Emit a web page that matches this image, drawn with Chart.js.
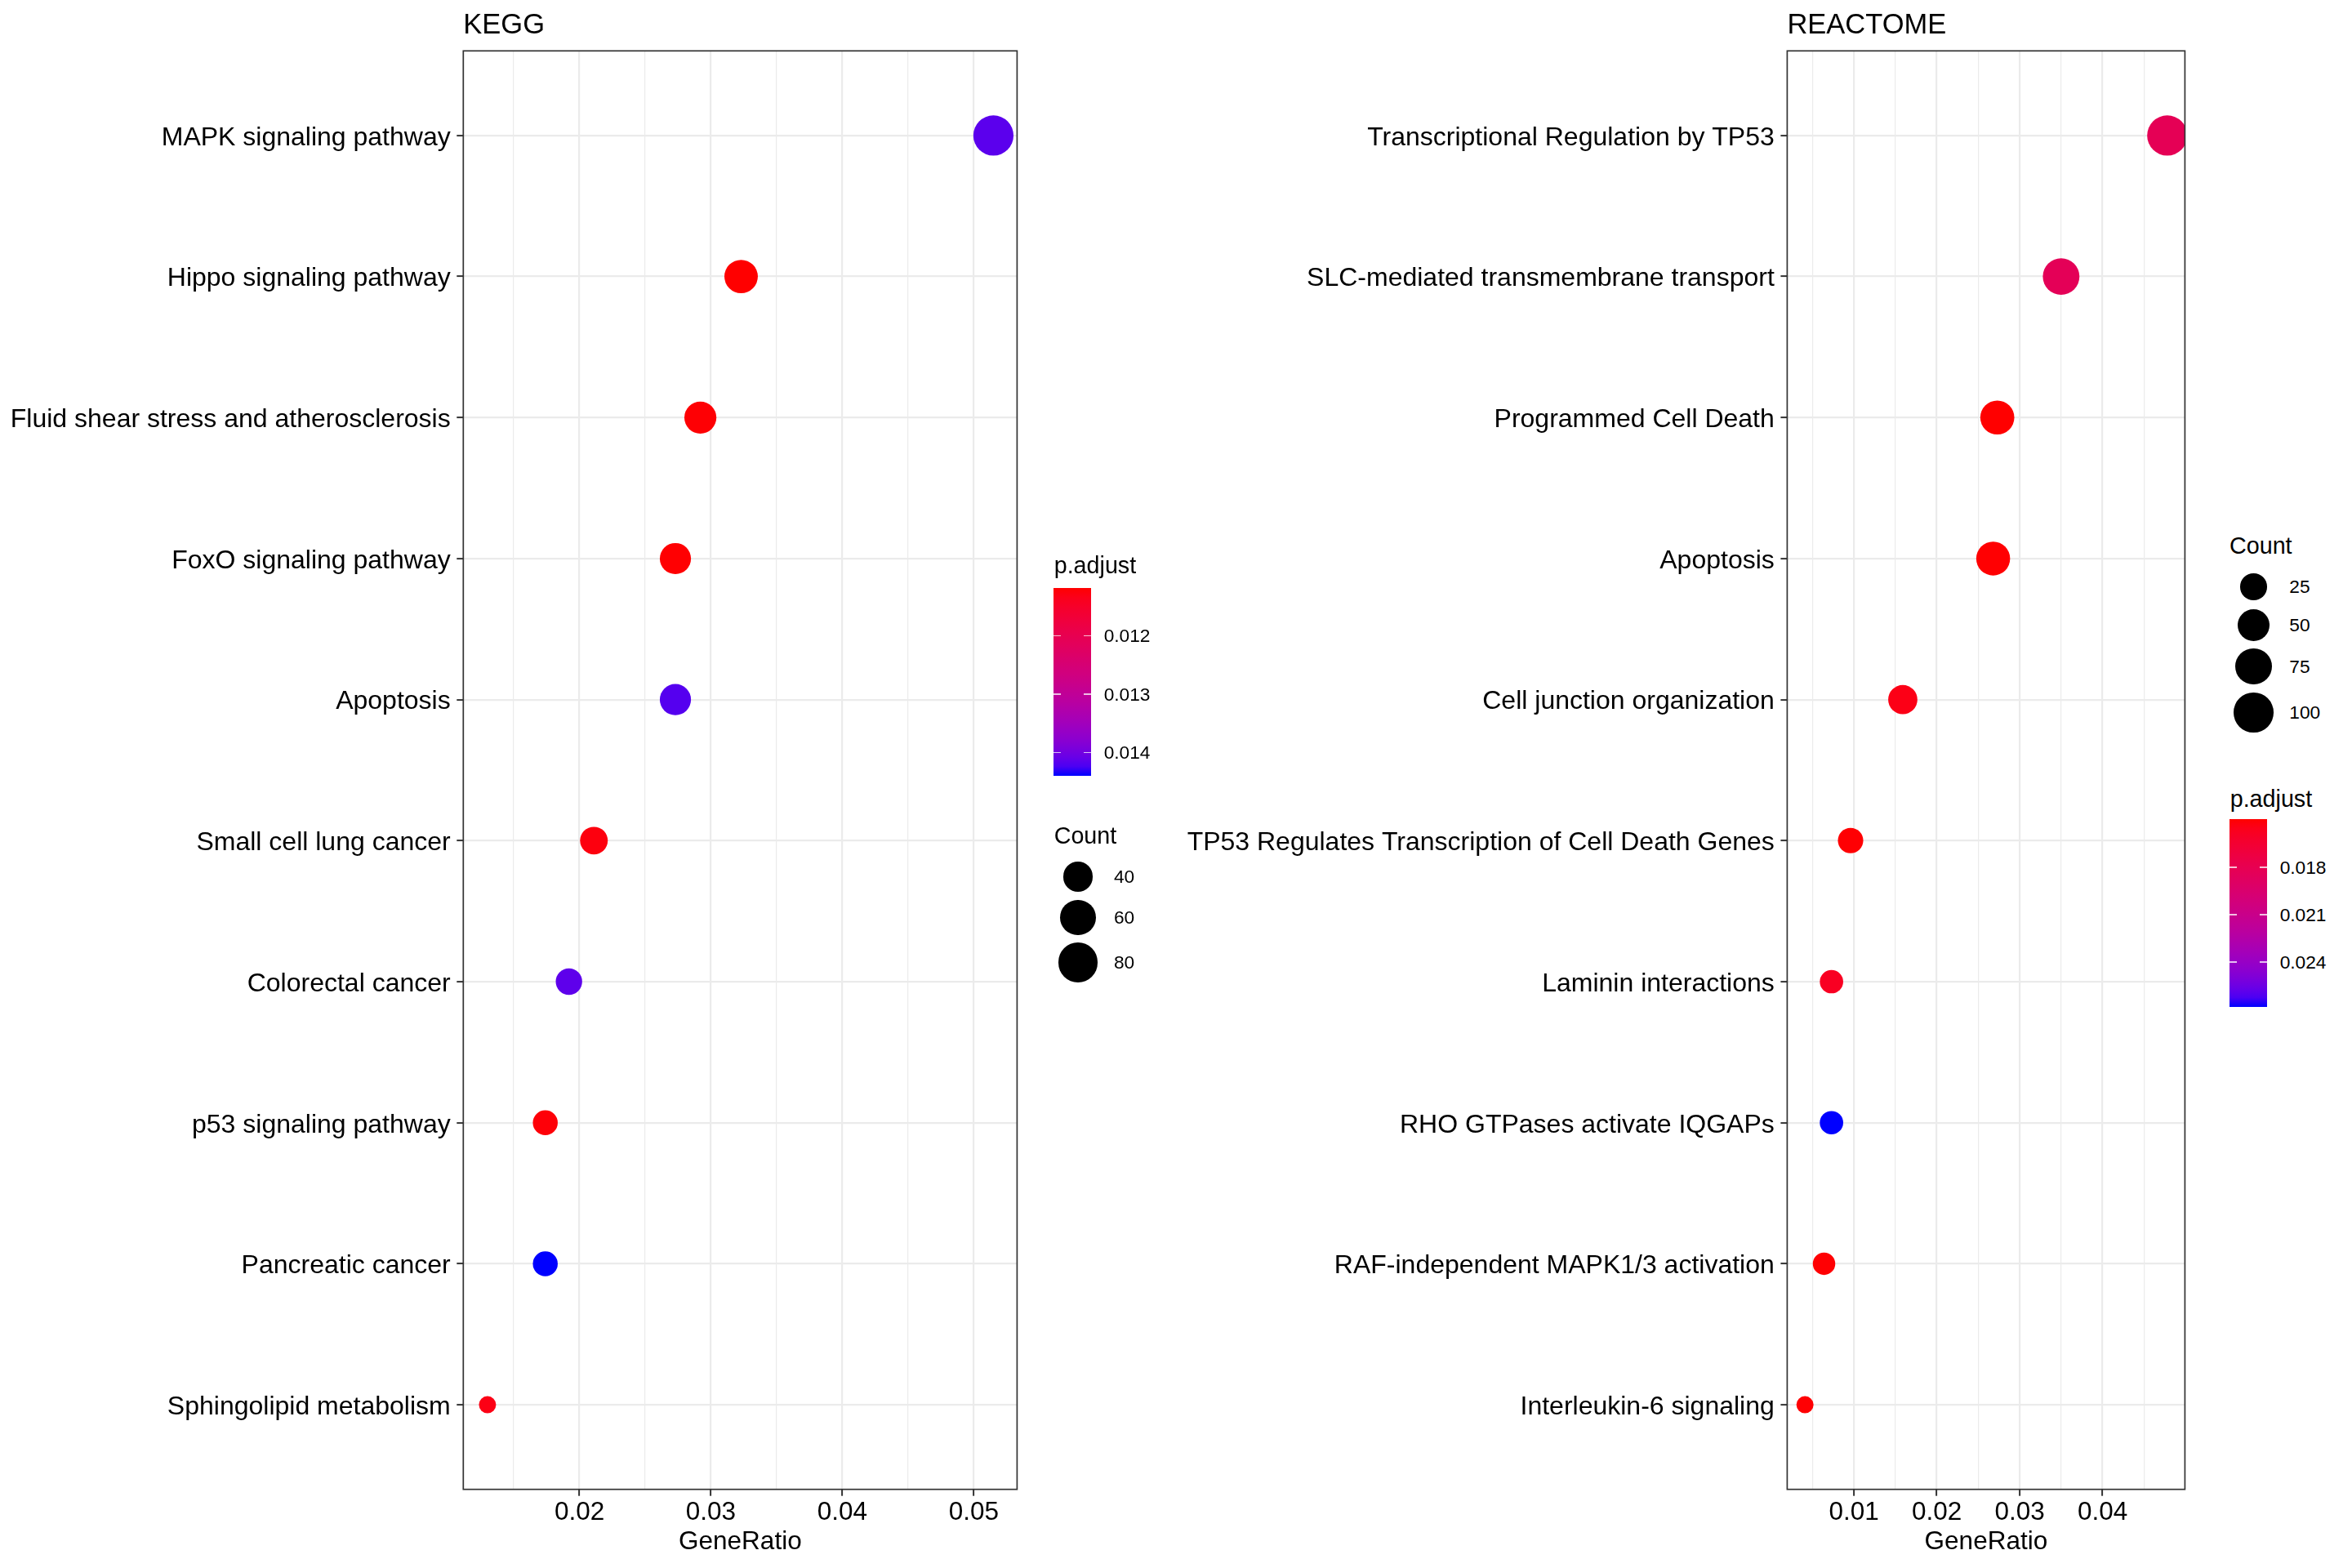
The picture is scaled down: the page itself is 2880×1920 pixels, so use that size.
<!DOCTYPE html>
<html>
<head>
<meta charset="utf-8">
<script src="https://cdn.jsdelivr.net/npm/chart.js@4.4.1/dist/chart.umd.min.js"></script>
<style>
  body { margin: 0; background: #fff; }
  #pagina { position: relative; width: 2880px; height: 1920px; background: #fff;
            font-family: "Liberation Sans", Arial, sans-serif; color: #000; overflow: hidden; }
  canvas { position: absolute; top: 0; }
  .text { position: absolute; white-space: nowrap; }
</style>
</head>
<body>
<div id="pagina">
  <canvas id="kegg" width="1270" height="1920" style="left:0px"></canvas>
  <canvas id="reactome" width="1430" height="1920" style="left:1270px"></canvas>
</div>
<script>
// Dades KEGG
const categoriesKegg = ['MAPK signaling pathway', 'Hippo signaling pathway', 'Fluid shear stress and atherosclerosis',
    'FoxO signaling pathway', 'Apoptosis', 'Small cell lung cancer', 'Colorectal cancer',
    'p53 signaling pathway', 'Pancreatic cancer', 'Sphingolipid metabolism'];
const generatioKegg = [0.0515, 0.0323, 0.0292, 0.0273, 0.0273, 0.0211, 0.0192, 0.0174, 0.0174, 0.0130];
const countKegg = [83, 52, 47, 44, 44, 34, 31, 28, 28, 21];
const padjKegg = [0.01416, 0.01118, 0.01120, 0.01119, 0.01419, 0.01125, 0.01414, 0.01122, 0.01440, 0.01130];
const ticksKegg = [0.02, 0.03, 0.04, 0.05];
const ticksMenorsKegg = [0.015, 0.025, 0.035, 0.045];
const ticksPadjKegg = [0.012, 0.013, 0.014];
const ticksCountKegg = [40, 60, 80];

// Dades REACTOME
const categoriesReactome = ['Transcriptional Regulation by TP53', 'SLC-mediated transmembrane transport',
    'Programmed Cell Death', 'Apoptosis', 'Cell junction organization',
    'TP53 Regulates Transcription of Cell Death Genes', 'Laminin interactions',
    'RHO GTPases activate IQGAPs', 'RAF-independent MAPK1/3 activation', 'Interleukin-6 signaling'];
const generatioReactome = [0.0478, 0.0350, 0.0273, 0.0268, 0.0159, 0.0096, 0.0073, 0.0073, 0.0064, 0.0041];
const countReactome = [104, 77, 60, 59, 35, 21, 16, 16, 14, 9];
const padjReactome = [0.0182, 0.0183, 0.01494, 0.01497, 0.0154, 0.0150, 0.0158, 0.02682, 0.0150, 0.0150];
const ticksReactome = [0.01, 0.02, 0.03, 0.04];
const ticksMenorsReactome = [0.005, 0.015, 0.025, 0.035, 0.045];
const ticksPadjReactome = [0.018, 0.021, 0.024];
const ticksCountReactome = [25, 50, 75, 100];

const FONT = '"Liberation Sans", Arial, sans-serif';
const R_MIN = 10.5, R_MAX = 24.6;

// Colors: gradient vermell -> blau interpolat en Lab (com ggplot)
function rgbALab(r, g, b) {
    const lin = c => { c /= 255; return c <= 0.04045 ? c / 12.92 : Math.pow((c + 0.055) / 1.055, 2.4); };
    const R = lin(r), G = lin(g), B = lin(b);
    const X = (R * 0.4124564 + G * 0.3575761 + B * 0.1804375) / 0.95047;
    const Y = R * 0.2126729 + G * 0.7151522 + B * 0.0721750;
    const Z = (R * 0.0193339 + G * 0.1191920 + B * 0.9503041) / 1.08883;
    const f = t => t > 0.008856 ? Math.cbrt(t) : 7.787 * t + 16 / 116;
    return [116 * f(Y) - 16, 500 * (f(X) - f(Y)), 200 * (f(Y) - f(Z))];
}

function labARgb(L, a, b) {
    const fy = (L + 16) / 116, fx = fy + a / 500, fz = fy - b / 200;
    const inv = t => t * t * t > 0.008856 ? t * t * t : (t - 16 / 116) / 7.787;
    const X = inv(fx) * 0.95047, Y = inv(fy), Z = inv(fz) * 1.08883;
    const R = X * 3.2404542 - Y * 1.5371385 - Z * 0.4985314;
    const G = -X * 0.9692660 + Y * 1.8760108 + Z * 0.0415560;
    const B = X * 0.0556434 - Y * 0.2040259 + Z * 1.0572252;
    const gam = c => {
        c = c <= 0.0031308 ? 12.92 * c : 1.055 * Math.pow(c, 1 / 2.4) - 0.055;
        return Math.round(Math.min(1, Math.max(0, c)) * 255);
    };
    return 'rgb(' + gam(R) + ',' + gam(G) + ',' + gam(B) + ')';
}

const labVermell = rgbALab(255, 0, 0);
const labBlau = rgbALab(0, 0, 255);

function colorT(t) {
    t = Math.min(1, Math.max(0, t));
    return labARgb(labVermell[0] + t * (labBlau[0] - labVermell[0]),
                   labVermell[1] + t * (labBlau[1] - labVermell[1]),
                   labVermell[2] + t * (labBlau[2] - labVermell[2]));
}

// Mida del punt: escala d'area com scale_size
function radi(c, cMin, cMax) {
    return R_MIN + (R_MAX - R_MIN) * Math.sqrt((c - cMin) / (cMax - cMin));
}

// Vora del panell per sobre dels punts
const voraPanell = {
    id: 'voraPanell',
    afterDatasetsDraw(chart) {
        const { ctx, chartArea: a } = chart;
        ctx.save();
        ctx.strokeStyle = '#333333';
        ctx.lineWidth = 1.7;
        ctx.strokeRect(a.left, a.top, a.right - a.left, a.bottom - a.top);
        ctx.restore();
    }
};

function afegirText(text, left, top, mida) {
    const d = document.createElement('div');
    d.className = 'text';
    d.textContent = text;
    d.style.left = left + 'px';
    d.style.top = top + 'px';
    d.style.fontSize = mida + 'px';
    d.style.lineHeight = mida + 'px';
    document.getElementById('pagina').appendChild(d);
}

function crearPanell(p) {
    const canvas = document.getElementById(p.id);
    const cMin = Math.min(...p.counts), cMax = Math.max(...p.counts);
    const pMin = Math.min(...p.padj), pMax = Math.max(...p.padj);
    const punts = p.categories.map((c, i) => ({ x: p.ratios[i], y: i + 1, count: p.counts[i], padj: p.padj[i] }));
    const altX = 86;
    const totsTicks = p.majors.concat(p.menors).filter(v => v > p.xMin && v < p.xMax).sort((a, b) => a - b);
    const esMajor = v => p.majors.some(m => Math.abs(m - v) < 1e-9);
    const majorCtx = c => c.tick && esMajor(c.tick.value);

    new Chart(canvas, {
        type: 'scatter',
        data: {
            datasets: [{
                data: punts,
                pointRadius: c => c.raw ? radi(c.raw.count, cMin, cMax) : 0,
                pointHoverRadius: c => c.raw ? radi(c.raw.count, cMin, cMax) : 0,
                pointBackgroundColor: c => c.raw ? colorT((c.raw.padj - pMin) / (pMax - pMin)) : 'rgba(0,0,0,0)',
                pointBorderWidth: 0,
                clip: 0
            }]
        },
        options: {
            responsive: false,
            animation: false,
            events: [],
            layout: {
                padding: {
                    top: p.caixa.top,
                    left: 0,
                    right: p.offsetX + canvas.width - p.caixa.right,
                    bottom: canvas.height - p.caixa.bottom - altX
                }
            },
            plugins: { legend: { display: false }, tooltip: { enabled: false } },
            scales: {
                x: {
                    type: 'linear',
                    min: p.xMin,
                    max: p.xMax,
                    afterBuildTicks: s => { s.ticks = totsTicks.map(v => ({ value: v })); },
                    afterFit: s => { s.height = altX; },
                    ticks: {
                        autoSkip: false, maxRotation: 0, padding: 4.5, color: '#000',
                        font: { family: FONT, size: 31.5, lineHeight: 1 },
                        callback: v => esMajor(v) ? v.toFixed(2) : ''
                    },
                    grid: {
                        color: '#EBEBEB',
                        lineWidth: c => majorCtx(c) ? 2.2 : 1.2,
                        tickLength: 8,
                        tickWidth: 2,
                        tickColor: c => majorCtx(c) ? '#333333' : 'rgba(0,0,0,0)'
                    },
                    border: { display: false },
                    title: {
                        display: true, text: 'GeneRatio', color: '#000',
                        font: { family: FONT, size: 31.5, lineHeight: 1 },
                        padding: { top: 0, bottom: 6 }
                    }
                },
                y: {
                    type: 'linear',
                    min: 0.4,
                    max: p.categories.length + 0.6,
                    reverse: true,
                    afterBuildTicks: s => { s.ticks = p.categories.map((c, i) => ({ value: i + 1 })); },
                    afterFit: s => { s.width = p.caixa.left - p.offsetX; },
                    ticks: {
                        autoSkip: false, padding: 7.6, color: '#000', labelOffset: 3,
                        font: { family: FONT, size: 32 },
                        callback: (v, i) => p.categories[i]
                    },
                    grid: { color: '#EBEBEB', lineWidth: 2.2, tickLength: 8, tickWidth: 2, tickColor: '#333333' },
                    border: { display: false }
                }
            }
        },
        plugins: [voraPanell]
    });

    // Titol del panell
    afegirText(p.titol, p.caixa.left, 11.5, 34.5);

    // Llegenda p.adjust (barra de color, vermell a dalt)
    const lb = p.barra;
    afegirText('p.adjust', lb.left + 0.7, lb.titolBase - 24.3, 28.7);
    const stops = [];
    for (let i = 0; i <= 20; i++) stops.push(colorT(i / 20) + ' ' + (i * 5) + '%');
    const barra = document.createElement('div');
    barra.style.cssText = 'position:absolute;left:' + lb.left + 'px;top:' + lb.top + 'px;width:46px;height:230px;' +
        'background:linear-gradient(to bottom,' + stops.join(',') + ');';
    document.getElementById('pagina').appendChild(barra);
    p.ticksPadj.forEach(v => {
        const y = lb.top + (v - pMin) / (pMax - pMin) * 230;
        [0, 36.8].forEach(dx => {
            const m = document.createElement('div');
            m.style.cssText = 'position:absolute;left:' + (lb.left + dx) + 'px;top:' + (y - 0.8) + 'px;width:9.2px;height:1.6px;background:rgba(255,255,255,0.75);';
            document.getElementById('pagina').appendChild(m);
        });
        afegirText(v.toFixed(3), lb.left + 61.7, y - 11.35, 22.7);
    });

    // Llegenda Count (cercles negres)
    const lc = p.cercles;
    afegirText('Count', lc.x - 29.3, lc.titolBase - 24.3, 28.7);
    p.ticksCount.forEach((v, i) => {
        const r = radi(v, cMin, cMax);
        const c = document.createElement('div');
        c.style.cssText = 'position:absolute;left:' + (lc.x - r) + 'px;top:' + (lc.ys[i] - r) + 'px;width:' + (2 * r) +
            'px;height:' + (2 * r) + 'px;border-radius:50%;background:#000;';
        document.getElementById('pagina').appendChild(c);
        afegirText(String(v), lc.x + 44, lc.ys[i] - 11.35, 22.7);
    });
}

// Panell KEGG
crearPanell({
    id: 'kegg', titol: 'KEGG', offsetX: 0,
    caixa: { left: 567.3, right: 1248.5, top: 62.3, bottom: 1823.7 },
    xMin: 0.01116, xMax: 0.0533,
    categories: categoriesKegg, ratios: generatioKegg, counts: countKegg, padj: padjKegg,
    majors: ticksKegg, menors: ticksMenorsKegg, ticksPadj: ticksPadjKegg, ticksCount: ticksCountKegg,
    barra: { left: 1290, top: 720, titolBase: 702 },
    cercles: { x: 1320, titolBase: 1033, ys: [1073.6, 1123.2, 1178.6] }
});

// Panell REACTOME
crearPanell({
    id: 'reactome', titol: 'REACTOME', offsetX: 1270,
    caixa: { left: 2188.4, right: 2689, top: 62.3, bottom: 1823.7 },
    xMin: 0.001956, xMax: 0.04993,
    categories: categoriesReactome, ratios: generatioReactome, counts: countReactome, padj: padjReactome,
    majors: ticksReactome, menors: ticksMenorsReactome, ticksPadj: ticksPadjReactome, ticksCount: ticksCountReactome,
    barra: { left: 2730, top: 1002.8, titolBase: 987.8 },
    cercles: { x: 2759.3, titolBase: 678.7, ys: [718.3, 765.7, 815.9, 872.4] }
});
</script>
</body>
</html>
